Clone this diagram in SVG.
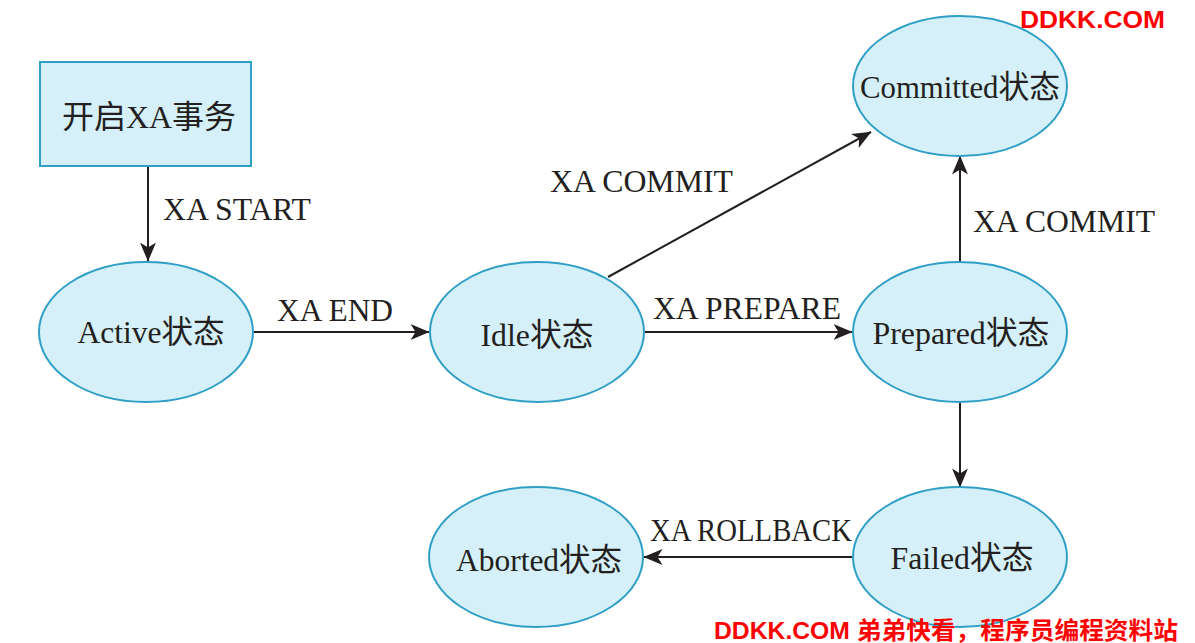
<svg xmlns="http://www.w3.org/2000/svg" width="1195" height="643" viewBox="0 0 1195 643">
<style>
.node{fill:#d5f0f8;stroke:#2f9fc6;stroke-width:2}
.lbl{font-family:"Liberation Serif","Noto Sans CJK SC",serif;font-size:32px;fill:#231f20}
.nl{text-anchor:middle}
.edge{stroke:#231f20;stroke-width:2;fill:none;marker-end:url(#arr)}
.wm{font-family:"Liberation Sans","Noto Sans CJK SC",sans-serif;font-weight:bold;fill:#ff0000}
</style>
<defs>
<marker id="arr" viewBox="0 0 19 16" refX="18.5" refY="8" markerWidth="19" markerHeight="16" markerUnits="userSpaceOnUse" orient="auto">
<path d="M0,0 L19,8 L0,16 L5,8 z" fill="#231f20"/>
</marker>
</defs>
<rect width="1195" height="643" fill="#ffffff"/>
<g id="connectors">
<line class="edge" x1="148" y1="167" x2="148" y2="261"/>
<line class="edge" x1="254" y1="332" x2="429" y2="332"/>
<line class="edge" x1="645" y1="332" x2="852" y2="332"/>
<line class="edge" x1="608" y1="277" x2="871" y2="132"/>
<line class="edge" x1="960" y1="262" x2="960" y2="156"/>
<line class="edge" x1="960" y1="402" x2="960" y2="487"/>
<line class="edge" x1="852" y1="557" x2="644" y2="557"/>
<text class="lbl" x="163" y="220" textLength="148" lengthAdjust="spacingAndGlyphs">XA START</text>
<text class="lbl" x="277" y="321" textLength="116" lengthAdjust="spacingAndGlyphs">XA END</text>
<text class="lbl" x="653" y="319" textLength="188" lengthAdjust="spacingAndGlyphs">XA PREPARE</text>
<text class="lbl" x="550" y="192" textLength="183" lengthAdjust="spacingAndGlyphs">XA COMMIT</text>
<text class="lbl" x="973" y="232" textLength="182" lengthAdjust="spacingAndGlyphs">XA COMMIT</text>
<text class="lbl" x="650" y="541" textLength="202" lengthAdjust="spacingAndGlyphs">XA ROLLBACK</text>
</g>
<g id="start">
<rect class="node" x="40" y="62" width="211" height="104"/>
<text class="lbl nl" x="149" y="128" textLength="174" lengthAdjust="spacingAndGlyphs">开启XA事务</text>
</g>
<g id="active">
<ellipse class="node" cx="146" cy="332" rx="107" ry="70"/>
<text class="lbl nl" x="151" y="343" textLength="147" lengthAdjust="spacingAndGlyphs">Active状态</text>
</g>
<g id="idle">
<ellipse class="node" cx="537" cy="332" rx="107" ry="70"/>
<text class="lbl nl" x="537" y="346" textLength="113" lengthAdjust="spacingAndGlyphs">Idle状态</text>
</g>
<g id="committed">
<ellipse class="node" cx="960" cy="86" rx="107" ry="70"/>
<text class="lbl nl" x="960" y="98" textLength="200" lengthAdjust="spacingAndGlyphs">Committed状态</text>
</g>
<g id="prepared">
<ellipse class="node" cx="960" cy="332" rx="107" ry="70"/>
<text class="lbl nl" x="961" y="344" textLength="177" lengthAdjust="spacingAndGlyphs">Prepared状态</text>
</g>
<g id="failed">
<ellipse class="node" cx="960" cy="557" rx="107" ry="70"/>
<text class="lbl nl" x="962" y="569" textLength="143" lengthAdjust="spacingAndGlyphs">Failed状态</text>
</g>
<g id="aborted">
<ellipse class="node" cx="536" cy="557" rx="107" ry="70"/>
<text class="lbl nl" x="539" y="571" textLength="166" lengthAdjust="spacingAndGlyphs">Aborted状态</text>
</g>
<g id="watermarks">
<text class="wm" x="1020" y="28" font-size="24" textLength="145" lengthAdjust="spacingAndGlyphs">DDKK.COM</text>
<text class="wm" x="714" y="639" font-size="24" textLength="464" lengthAdjust="spacingAndGlyphs">DDKK.COM 弟弟快看，程序员编程资料站</text>
</g>
</svg>
